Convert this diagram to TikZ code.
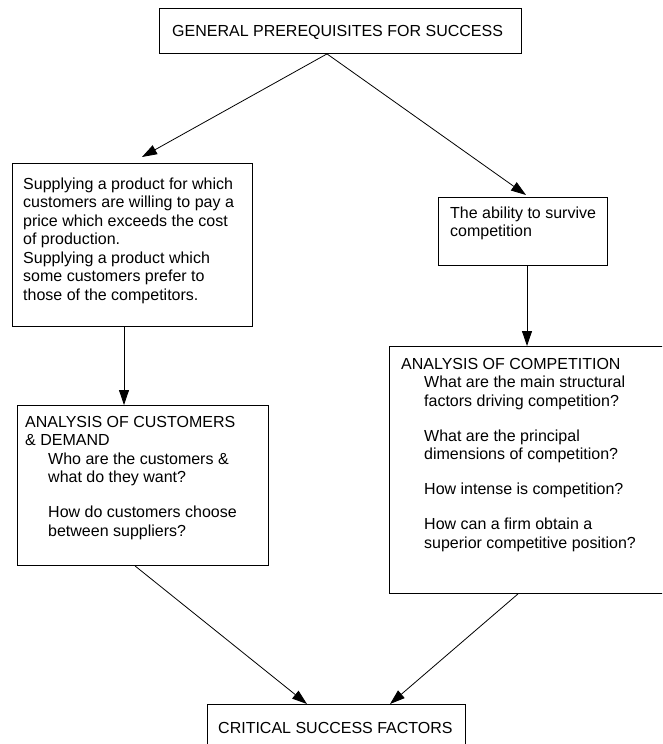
\documentclass[tikz,border=0pt]{standalone}
\usepackage{fontspec}
\setmainfont{Liberation Sans}
\usetikzlibrary{arrows.meta}
\newcommand{\ind}{\hspace*{23pt}}
\begin{document}
\begin{tikzpicture}[x=1pt,y=-1pt,
  box/.style={draw,line width=0.9pt,inner sep=0pt,anchor=north west},
  txt/.style={inner sep=0pt,anchor=north west,align=left,
    font=\fontsize{16}{18.5}\selectfont},
  arr/.style={line width=0.8pt,-{Triangle[length=15pt,width=10pt]}}]
\useasboundingbox (0,0) rectangle (662,744);
\clip (0,0) rectangle (662,744);

% boxes
\node[box,minimum width=362pt,minimum height=45pt] (gen) at (159,8) {};
\node[box,minimum width=240pt,minimum height=163pt] (prod) at (12,163) {};
\node[box,minimum width=169pt,minimum height=68pt] (surv) at (438,197) {};
\node[box,minimum width=251pt,minimum height=160pt] (cust) at (17,405) {};
\node[box,minimum width=290pt,minimum height=247pt] (comp) at (389,346) {};
\node[box,minimum width=258pt,minimum height=60pt] (csf) at (207,704) {};

% texts
\node[txt,anchor=base west] (gent) at (172,36.2) {GENERAL PREREQUISITES FOR SUCCESS};
\node[txt] (prodt) at (23,177.5) {Supplying a product for which\\
customers are willing to pay a\\
price which exceeds the cost\\
of production.\\
Supplying a product which\\
some customers prefer to\\
those of the competitors.};
\node[txt] (survt) at (450,206.5) {The ability to survive\\competition};
\node[txt] (custt) at (25,416) {ANALYSIS OF CUSTOMERS\\
\& DEMAND\\
\ind Who are the customers \&\\
\ind what do they want?\\[16.5pt]
\ind How do customers choose\\
\ind between suppliers?};
\node[txt] (compt) at (401,358) {ANALYSIS OF COMPETITION\\
\ind What are the main structural\\
\ind factors driving competition?\\[16.5pt]
\ind What are the principal\\
\ind dimensions of competition?\\[16.5pt]
\ind How intense is competition?\\[16.5pt]
\ind How can a firm obtain a\\
\ind superior competitive position?};
\node[txt,anchor=base west] (csft) at (218,733.5) {CRITICAL SUCCESS FACTORS};

% connectors
\draw[arr] ([xshift=168pt]gen.south west) -- ([xshift=130pt,yshift=6pt]prod.north west);
\draw[arr] ([xshift=168pt]gen.south west) -- ([xshift=88pt,yshift=2pt]surv.north west);
\draw[arr] ([xshift=112pt]prod.south west) -- ([xshift=107pt]cust.north west);
\draw[arr] ([xshift=89pt]surv.south west) -- ([xshift=138pt]comp.north west);
\draw[arr] ([xshift=118pt]cust.south west) -- ([xshift=100pt]csf.north west);
\draw[arr] ([xshift=129pt]comp.south west) -- ([xshift=183pt]csf.north west);
\end{tikzpicture}
\end{document}
